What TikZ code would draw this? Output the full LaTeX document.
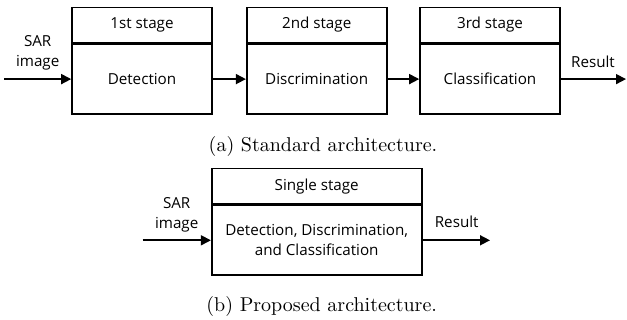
\documentclass[tikz,border=0pt]{standalone}
\usepackage{fontspec}
\setsansfont{Open Sans}
\usepackage{tikz}
\usetikzlibrary{arrows.meta, positioning}

\tikzset{
  headbox/.style={draw, line width=0.8pt, minimum width=70pt, minimum height=17.5pt,
                  inner sep=0pt, font=\sffamily\fontsize{7.6}{9}\selectfont},
  bodybox/.style={draw, line width=0.8pt, minimum width=70pt, minimum height=35pt,
                  inner sep=0pt, align=center, font=\sffamily\fontsize{7.6}{10}\selectfont},
  flow/.style={line width=0.8pt, -{Triangle[length=5pt, width=5pt]}},
  sidelabel/.style={align=center, font=\sffamily\fontsize{7.6}{10}\selectfont},
  caption/.style={font=\normalsize}
}

\begin{document}
\begin{tikzpicture}[x=0.5pt, y=-0.5pt]
        \useasboundingbox (0,0) rectangle (627,320);
        % ---- (a) standard architecture ----
        \node[headbox] (h1) at (142,25) {1st stage};
        \node[bodybox, below=0pt of h1] (b1) {Detection};
        \node[headbox] (h2) at (316.7,25) {2nd stage};
        \node[bodybox, below=0pt of h2] (b2) {Discrimination};
        \node[headbox] (h3) at (490,25) {3rd stage};
        \node[bodybox, below=0pt of h3] (b3) {Classification};
        \coordinate (in1) at (4,0 |- b1.west);
        \coordinate (out1) at (626,0 |- b3.east);
        \draw[flow] (in1) -- (b1.west);
        \draw[flow] (b1) -- (b2);
        \draw[flow] (b2) -- (b3);
        \draw[flow] (b3.east) -- (out1);
        \node[sidelabel] (sar1) at (37.7,53) {SAR\\image};
        \node[sidelabel] (res1) at (593,61.7) {Result};
        \node[caption] (capa) at (323,147) {(a) Standard architecture.};

        % ---- (b) proposed architecture ----
        \node[headbox, minimum width=105pt] (h4) at (316.7,186.2) {Single stage};
        \node[bodybox, minimum width=105pt, below=0pt of h4] (b4)
              {Detection, Discrimination,\\and Classification};
        \coordinate (in2) at (142.7,0 |- b4.west);
        \coordinate (out2) at (490,0 |- b4.east);
        \draw[flow] (in2) -- (b4.west);
        \draw[flow] (b4.east) -- (out2);
        \node[sidelabel] (sar2) at (176.7,215) {SAR\\image};
        \node[sidelabel] (res2) at (456.7,221.7) {Result};
        \node[caption] (capb) at (321.7,306.7) {(b) Proposed architecture.};
      \end{tikzpicture}
\end{document}
